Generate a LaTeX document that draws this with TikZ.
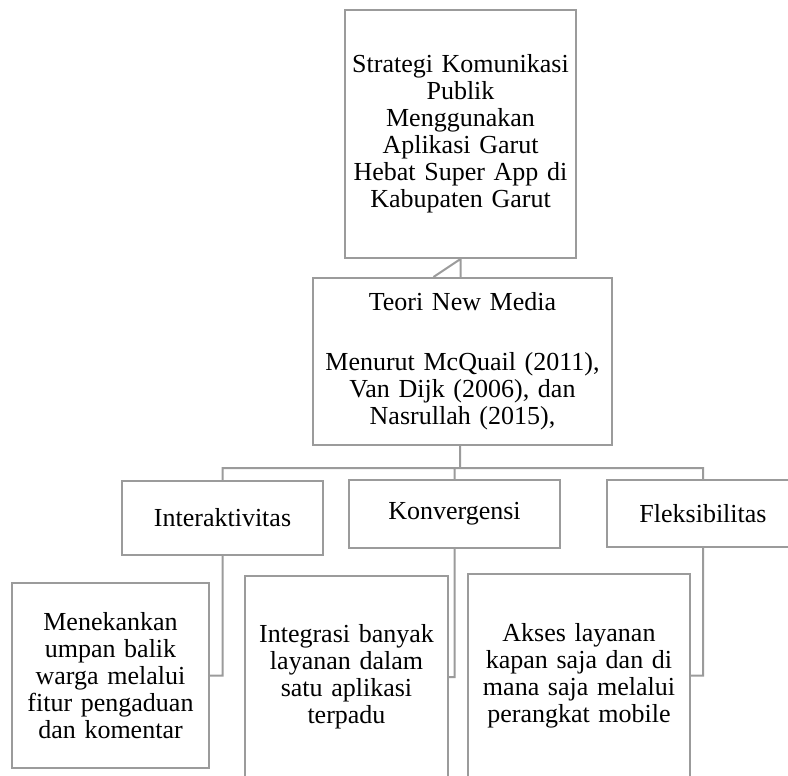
\documentclass[tikz,border=0pt]{standalone}
\usepackage{fontspec}
\setmainfont{Liberation Serif}
\definecolor{boxgray}{RGB}{155,155,155}

\begin{document}
\begin{tikzpicture}[x=1pt,y=-1pt,thick,
    box node/.style={draw=boxgray,line width=2pt,fill=white,inner sep=0pt,align=center,
        font=\fontsize{26}{27}\selectfont},
    link/.style={draw=boxgray,line width=2pt}]
        \useasboundingbox (0,0) rectangle (788,776);
        \clip (0,0) rectangle (788,776);

        \node[box node, text width=231, minimum height=248] at (460.5, 134) (judul)
            {Strategi Komunikasi\\ Publik\\ Menggunakan\\ Aplikasi Garut\\ Hebat Super App di\\ Kabupaten Garut};
        \node[box node, text width=299, minimum height=167] at (462.5, 361.5) (teori)
            {Teori New Media\\[33pt] Menurut McQuail (2011),\\ Van Dijk (2006), dan\\ Nasrullah (2015),};

        \node[box node, text width=201, minimum height=74] at (222.5, 518) (inter) {Interaktivitas};
        \node[box node, text width=211, minimum height=68] at (454.5, 514) (konv) {Konvergensi};
        \node[box node, text width=192, minimum height=67] at (703, 513.5) (fleks) {Fleksibilitas};

        \node[box node, text width=197, minimum height=185] at (110.5, 675.5) (menek)
            {Menekankan\\ umpan balik\\ warga melalui\\ fitur pengaduan\\ dan komentar};
        \node[box node, text width=203, minimum height=202] at (346.5, 677) (integ)
            {Integrasi banyak\\ layanan dalam\\ satu aplikasi\\ terpadu};
        \node[box node, text width=222, minimum height=203] at (579, 675.5) (akses)
            {Akses layanan\\ kapan saja dan di\\ mana saja melalui\\ perangkat mobile};

        \coordinate (bus) at (460, 468);

        \path[link]
            (judul.south) -- (judul.south |- teori.north)
            (judul.south) -- ([xshift=-29pt]teori.north)
            (bus |- teori.south) -- (bus)
            (inter.north) |- (bus) -| (fleks.north)
            (konv.north) -- (konv.north |- bus)
            (inter.south) |- (menek.east)
            (konv.south) |- (integ.east)
            (fleks.south) |- (akses.east)
            ;
\end{tikzpicture}
\end{document}
